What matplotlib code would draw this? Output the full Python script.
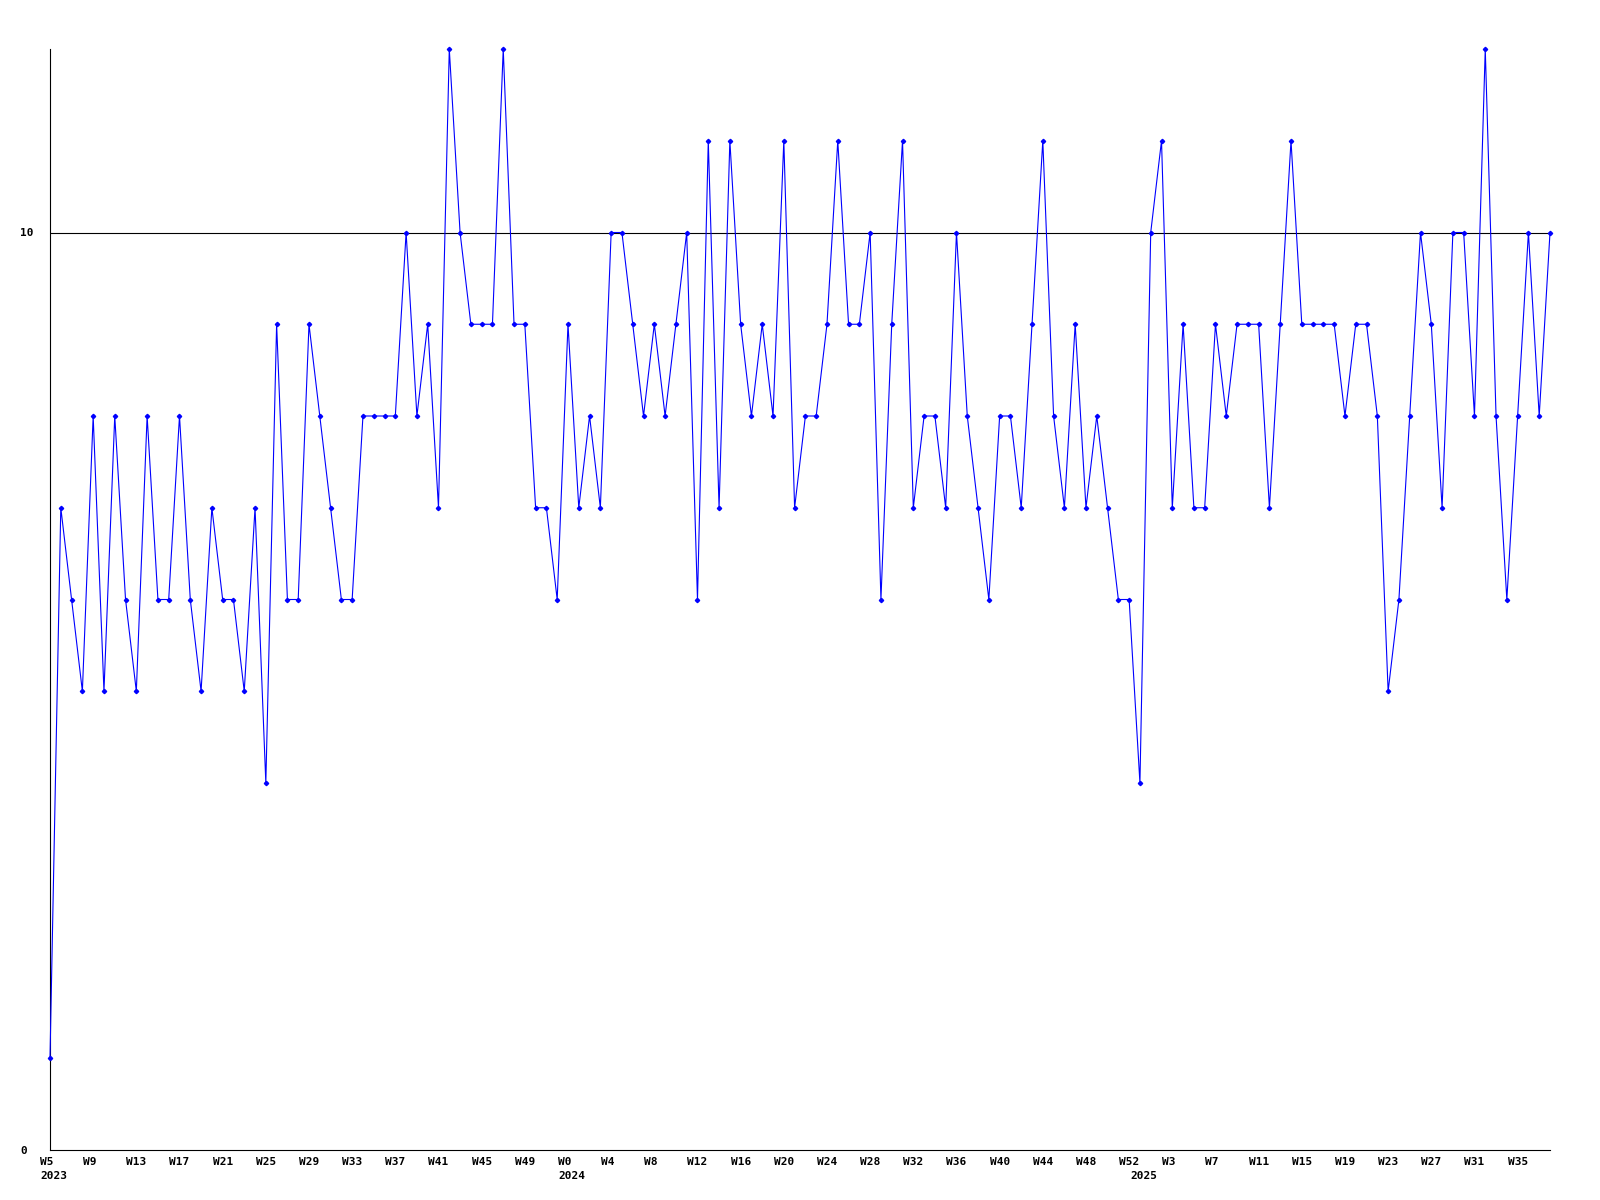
import matplotlib
matplotlib.use("Agg")
import matplotlib.pyplot as plt
from matplotlib.transforms import ScaledTranslation

# Weekly values, 2023 W5 .. 2025 W38
values = [
    1, 7, 6, 5, 8, 5, 8, 6, 5, 8,
    6, 6, 8, 6, 5, 7, 6, 6, 5, 7,
    4, 9, 6, 6, 9, 8, 7, 6, 6, 8,
    8, 8, 8, 10, 8, 9, 7, 12, 10, 9,
    9, 9, 12, 9, 9, 7, 7, 6, 9, 7,
    8, 7, 10, 10, 9, 8, 9, 8, 9, 10,
    6, 11, 7, 11, 9, 8, 9, 8, 11, 7,
    8, 8, 9, 11, 9, 9, 10, 6, 9, 11,
    7, 8, 8, 7, 10, 8, 7, 6, 8, 8,
    7, 9, 11, 8, 7, 9, 7, 8, 7, 6,
    6, 4, 10, 11, 7, 9, 7, 7, 9, 8,
    9, 9, 9, 7, 9, 11, 9, 9, 9, 9,
    8, 9, 9, 8, 5, 6, 8, 10, 9, 7,
    10, 10, 8, 12, 8, 6, 8, 10, 8, 10,
]

# x tick labels, one every 4 weeks starting at the first week
tick_labels = [
    "W5", "W9", "W13", "W17", "W21", "W25", "W29", "W33", "W37", "W41",
    "W45", "W49", "W0", "W4", "W8", "W12", "W16", "W20", "W24", "W28",
    "W32", "W36", "W40", "W44", "W48", "W52", "W3", "W7", "W11", "W15",
    "W19", "W23", "W27", "W31", "W35",
]
tick_step = 4

# year labels and the week index where each year starts
year_labels = ["2023", "2024", "2025"]
year_starts = [0, 48, 101]

y_ticks = [0, 10]
ref_line = 10

W, H, DPI = 1600, 1200, 100
fig = plt.figure(figsize=(W / DPI, H / DPI), dpi=DPI)
fig.patch.set_facecolor("white")
ax = fig.add_axes([50 / W, 50 / H, 1500 / W, 1101 / H])

font = dict(family="DejaVu Sans Mono", weight="bold", size=8)

x = list(range(len(values)))
ax.plot(x, values, color="#0000ff", lw=0.8, marker="D", ms=2.2,
        mec="#0000ff", mfc="#0000ff", clip_on=False, zorder=3)
ax.axhline(ref_line, color="black", lw=0.8, zorder=2)

ax.set_xlim(0, len(values) - 1)
ax.set_ylim(0, 12)

for s in ("top", "right"):
    ax.spines[s].set_visible(False)
for s in ("left", "bottom"):
    ax.spines[s].set_color("black")
    ax.spines[s].set_linewidth(0.8)

ax.tick_params(axis="y", length=0, pad=21.6)
ax.tick_params(axis="x", length=0, pad=5)
ax.set_yticks(y_ticks, [str(v) for v in y_ticks])
ax.set_xticks(list(range(0, tick_step * len(tick_labels), tick_step)), tick_labels)

for lab in ax.get_yticklabels():
    lab.set_ha("left")
    lab.set_fontproperties(matplotlib.font_manager.FontProperties(**font))
off = ScaledTranslation(-10 / DPI, 0, fig.dpi_scale_trans)
for lab in ax.get_xticklabels():
    lab.set_ha("left")
    lab.set_fontproperties(matplotlib.font_manager.FontProperties(**font))
    lab.set_transform(lab.get_transform() + off)

for lbl, pos in zip(year_labels, year_starts):
    ax.annotate(lbl, xy=(pos, 0), xycoords=("data", "axes fraction"),
                xytext=(-10, -21), textcoords="offset pixels",
                ha="left", va="top", annotation_clip=False, **font)

fig.savefig("out.png", dpi=DPI, facecolor="white")
